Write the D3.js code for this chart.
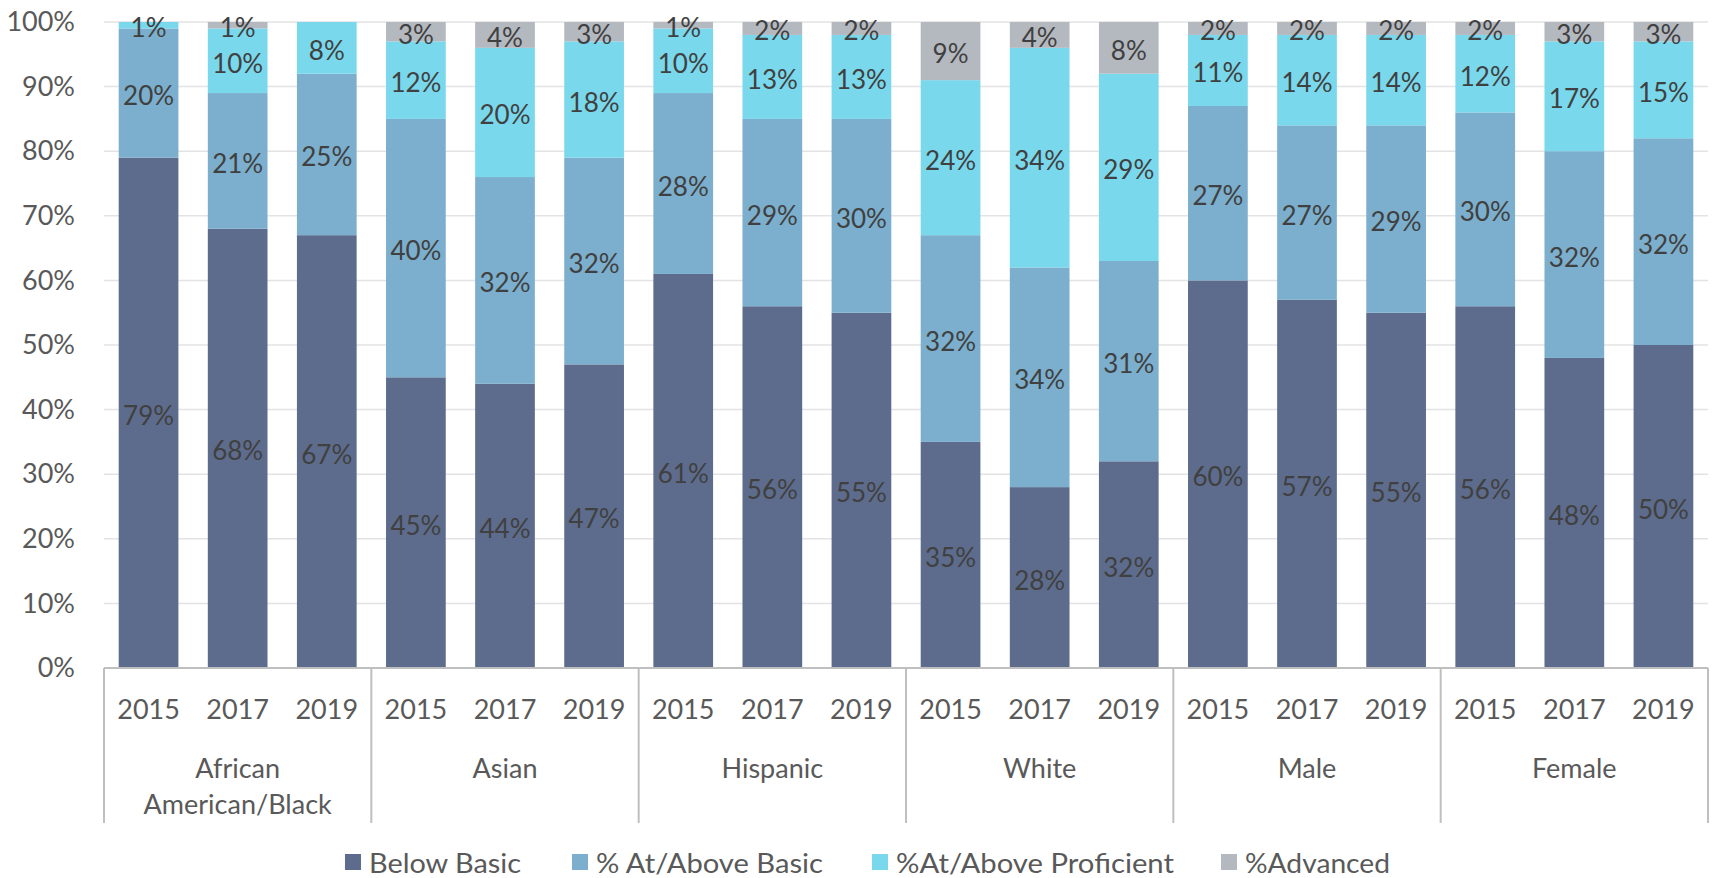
<!DOCTYPE html>
<html>
<head>
<meta charset="utf-8">
<script src="https://cdn.jsdelivr.net/npm/d3@7"></script>
<style>
  body { margin: 0; background: #fff; }
  svg { display: block; font-family: Lato, "Noto Sans", sans-serif; }
</style>
</head>
<body>
<script>
// data
const groups = ["African American/Black", "Asian", "Hispanic", "White", "Male", "Female"];
const years = ["2015", "2017", "2019"];
const seriesNames = ["Below Basic", "% At/Above Basic", "%At/Above Proficient", "%Advanced"];
const colors = ["#5d6c8c", "#7bafcd", "#79d8ec", "#b4b8bf"];

const belowBasic = [79, 68, 67, 45, 44, 47, 61, 56, 55, 35, 28, 32, 60, 57, 55, 56, 48, 50];
const atBasic = [20, 21, 25, 40, 32, 32, 28, 29, 30, 32, 34, 31, 27, 27, 29, 30, 32, 32];
const proficient = [1, 10, 8, 12, 20, 18, 10, 13, 13, 24, 34, 29, 11, 14, 14, 12, 17, 15];
const advanced = [0, 1, 0, 3, 4, 3, 1, 2, 2, 9, 4, 8, 2, 2, 2, 2, 3, 3];
const yTicks = [0, 10, 20, 30, 40, 50, 60, 70, 80, 90, 100];

const w = 1714;
const h = 878;
const margin = { left: 104, right: 6, top: 22, bottom: 210 };

const svg = d3.select("body")
  .append("svg")
  .attr("width", w)
  .attr("height", h);

// one row per bar
const rows = [];
groups.forEach((g, gi) => {
  years.forEach((yr, yi) => {
    const i = gi * years.length + yi;
    rows.push({
      key: g + "|" + yr, group: g, year: yr,
      "Below Basic": belowBasic[i],
      "% At/Above Basic": atBasic[i],
      "%At/Above Proficient": proficient[i],
      "%Advanced": advanced[i]
    });
  });
});

const x = d3.scaleBand()
  .domain(rows.map(d => d.key))
  .range([margin.left, w - margin.right])
  .paddingInner(0.33)
  .paddingOuter(0.165);

const y = d3.scaleLinear()
  .domain([0, 100])
  .range([h - margin.bottom, margin.top]);

const color = d3.scaleOrdinal().domain(seriesNames).range(colors);

// gridlines
svg.append("g")
  .selectAll("line")
  .data(yTicks.filter(t => t > 0))
  .enter()
  .append("line")
  .attr("x1", margin.left)
  .attr("x2", w - margin.right)
  .attr("y1", d => y(d))
  .attr("y2", d => y(d))
  .style("stroke", "#e3e3e3")
  .style("stroke-width", 1.5);

// y axis labels
const yAxis = svg.append("g")
  .attr("transform", `translate(${margin.left}, 0)`)
  .call(d3.axisLeft(y).tickValues(yTicks).tickFormat(d => d + "%").tickSize(0).tickPadding(29));
yAxis.select(".domain").remove();
yAxis.selectAll("text")
  .style("font-family", "Lato, 'Noto Sans', sans-serif")
  .style("font-size", "27px")
  .style("fill", "#595959");

// stacked bars
const stacked = d3.stack().keys(seriesNames)(rows);

const layers = svg.append("g")
  .selectAll("g")
  .data(stacked)
  .enter()
  .append("g")
  .style("fill", d => color(d.key));

layers.selectAll("rect")
  .data(d => d)
  .enter()
  .append("rect")
  .attr("x", d => x(d.data.key))
  .attr("width", x.bandwidth())
  .attr("y", d => y(d[1]))
  .attr("height", d => y(d[0]) - y(d[1]));

// value labels
svg.append("g")
  .selectAll("g")
  .data(stacked)
  .enter()
  .append("g")
  .selectAll("text")
  .data(d => d.filter(s => s[1] - s[0] > 0))
  .enter()
  .append("text")
  .attr("x", d => x(d.data.key) + x.bandwidth() / 2)
  .attr("y", d => y((d[0] + d[1]) / 2) + 2)
  .attr("text-anchor", "middle")
  .attr("dominant-baseline", "central")
  .style("font-size", "26px")
  .style("fill", "#404040")
  .text(d => Math.round(d[1] - d[0]) + "%");

// x axis baseline
const base = y(0);
svg.append("line")
  .attr("x1", margin.left)
  .attr("x2", w - margin.right)
  .attr("y1", base)
  .attr("y2", base)
  .style("stroke", "#bfbfbf")
  .style("stroke-width", 2);

// group separators
const edges = d3.range(groups.length + 1).map(i => margin.left + i * (w - margin.left - margin.right) / groups.length);

svg.append("g")
  .selectAll("line")
  .data(edges)
  .enter()
  .append("line")
  .attr("x1", d => d)
  .attr("x2", d => d)
  .attr("y1", base)
  .attr("y2", base + 155)
  .style("stroke", "#bfbfbf")
  .style("stroke-width", 2);

// year labels
svg.append("g")
  .selectAll("text")
  .data(rows)
  .enter()
  .append("text")
  .attr("x", d => x(d.key) + x.bandwidth() / 2)
  .attr("y", base + 40)
  .attr("text-anchor", "middle")
  .attr("dominant-baseline", "central")
  .style("font-size", "27px")
  .style("fill", "#595959")
  .text(d => d.year);

// group labels
const groupLabels = svg.append("g")
  .selectAll("text")
  .data(groups)
  .enter()
  .append("text")
  .attr("x", (d, i) => (edges[i] + edges[i + 1]) / 2)
  .attr("y", base + 99)
  .attr("text-anchor", "middle")
  .attr("dominant-baseline", "central")
  .style("font-size", "27px")
  .style("fill", "#595959");

groupLabels.each(function (d) {
  const parts = d === "African American/Black" ? ["African", "American/Black"] : [d];
  const t = d3.select(this);
  parts.forEach((p, i) => {
    t.append("tspan")
      .attr("x", t.attr("x"))
      .attr("dy", i === 0 ? 0 : 36)
      .text(p);
  });
});

// legend
const legendX = [345, 572, 872, 1221];
const legendW = [152, 227, 278, 145];
const legend = svg.append("g")
  .selectAll("g")
  .data(seriesNames)
  .enter()
  .append("g")
  .attr("transform", (d, i) => `translate(${legendX[i]}, 862)`);

legend.append("rect")
  .attr("x", 0)
  .attr("y", -8)
  .attr("width", 16)
  .attr("height", 16)
  .style("fill", d => color(d));

legend.append("text")
  .attr("x", 24)
  .attr("y", 0)
  .attr("dominant-baseline", "central")
  .attr("textLength", (d, i) => legendW[i])
  .attr("lengthAdjust", "spacingAndGlyphs")
  .style("font-size", "27px")
  .style("fill", "#595959")
  .text(d => d);
</script>
</body>
</html>
